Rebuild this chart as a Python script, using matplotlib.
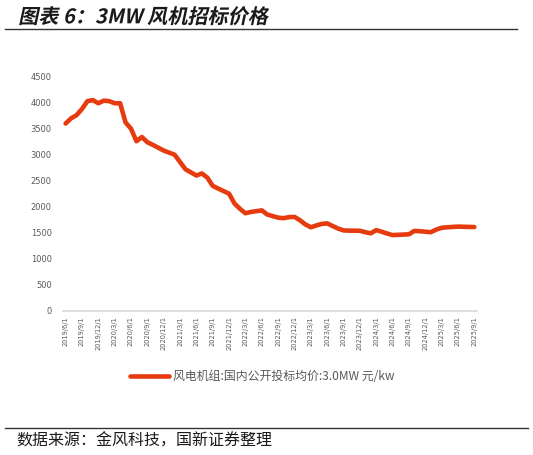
import numpy as np
import pandas as pd
from matplotlib import pyplot as plt
from matplotlib import patheffects
from matplotlib.lines import Line2D
from matplotlib.transforms import Affine2D

plt.rcParams['font.family'] = ['Noto Sans CJK SC', 'DejaVu Sans']

# -----------DATA-----------------
months = pd.date_range("2019-06-01", "2025-09-01", freq="MS")
price = [
    3600, 3700, 3760, 3880, 4030, 4050, 3990, 4040, 4030, 3990,  # 2019/6 - 2020/3
    3990, 3620, 3500, 3260, 3340, 3240, 3190, 3135, 3080, 3040,  # 2020/4 - 2021/1
    3000, 2860, 2720, 2660, 2600, 2640, 2560, 2400, 2350, 2300,  # 2021/2 - 2021/11
    2250, 2060, 1960, 1875, 1900, 1915, 1930, 1850, 1820, 1790,  # 2021/12 - 2022/9
    1780, 1800, 1805, 1740, 1660, 1605, 1640, 1670, 1680, 1630,  # 2022/10 - 2023/7
    1580, 1545, 1540, 1540, 1538, 1510, 1490, 1550, 1520, 1485,  # 2023/8 - 2024/5
    1455, 1460, 1465, 1470, 1535, 1530, 1520, 1510, 1560, 1595,  # 2024/6 - 2025/3
    1605, 1612, 1618, 1615, 1612, 1610,                          # 2025/4 - 2025/9
]
yticks = np.arange(0, 4501, 500)
title = "图表 6：3MW 风机招标价格"
series_name = "风电机组:国内公开投标均价:3.0MW 元/kw"
source = "数据来源：金风科技，国新证券整理"

line_color = "#E63B0F"
grey = "#595959"


class Slant(patheffects.AbstractPathEffect):
    """fake italic: shear glyphs around the text baseline"""

    def __init__(self, angle=12):
        super().__init__()
        self.angle = angle

    def draw_path(self, renderer, gc, tpath, affine, rgbFace=None):
        y0 = affine.get_matrix()[1, 2]
        shear = Affine2D().translate(0, -y0).skew_deg(self.angle, 0).translate(0, y0)
        renderer.draw_path(gc, tpath, affine + shear, rgbFace)


fig = plt.figure(figsize=(5.33, 4.55), dpi=100)
ax = fig.add_axes([0.118, 0.317, 0.777, 0.5144])

x = np.arange(len(months))
ax.plot(x, price, color=line_color, lw=3.3, solid_capstyle="round",
        solid_joinstyle="round")

ax.set_xlim(-0.5, len(months) - 0.5)
ax.set_ylim(0, 4500)
ax.set_yticks(yticks)
ax.set_yticklabels([str(v) for v in yticks], fontsize=6, color=grey,
                   family="DejaVu Sans")

tick_idx = x[::3]
ax.set_xticks(tick_idx)
ax.set_xticklabels([f"{d.year}/{d.month}/1" for d in months[::3]],
                   rotation=90, fontsize=4.8, color=grey, family="DejaVu Sans")
ax.tick_params(axis="both", length=0, pad=4)
ax.tick_params(axis="y", pad=8)

for side in ["top", "right", "left"]:
    ax.spines[side].set_visible(False)
ax.spines["bottom"].set_color("#d9d9d9")
ax.spines["bottom"].set_linewidth(1.2)

# legend under the axis
handle = Line2D([0], [0], color=line_color, lw=3.3, solid_capstyle="round")
fig.legend([handle], [series_name], loc="center", bbox_to_anchor=(0.492, 0.172),
           frameon=False, fontsize=8.6, handlelength=3.3, handletextpad=0.3,
           labelcolor=grey)

# title, rules and source
fig.text(0.034, 0.963, title, fontsize=14.5, fontweight="bold",
         va="center", ha="left", color="#1a1a1a",
         path_effects=[Slant(12)])
fig.add_artist(Line2D([0.009, 0.97], [0.936, 0.936], color="#333333", lw=1))
fig.add_artist(Line2D([0.009, 0.99], [0.06, 0.06], color="#333333", lw=1))
fig.text(0.031, 0.031, source, fontsize=11.5, va="center", ha="left",
         color="#1a1a1a")

fig.savefig("out.png", dpi=100)
